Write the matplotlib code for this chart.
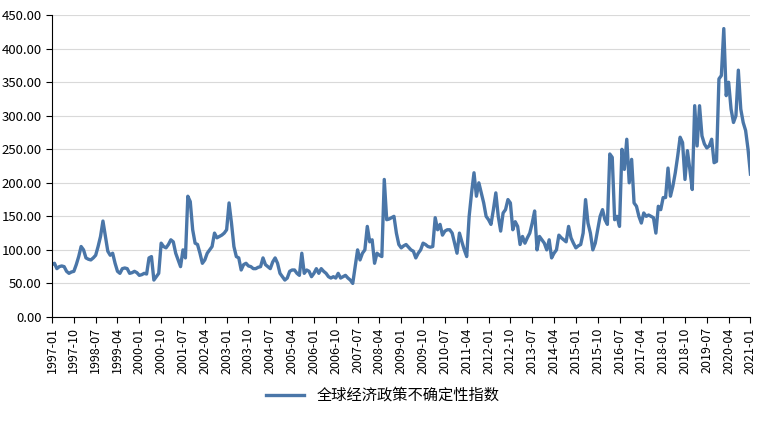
import matplotlib
matplotlib.use("Agg")
import matplotlib.pyplot as plt
import pandas as pd

plt.rcParams['font.family'] = ['Noto Sans CJK SC', 'DejaVu Sans']

values_by_year = {
1997: [78,80,72,75,76,75,68,65,67,68,78,90],
1998: [105,100,88,86,85,88,92,105,120,143,120,98],
1999: [92,95,80,68,65,72,73,72,65,66,68,66],
2000: [62,63,65,64,88,90,55,60,65,110,105,103],
2001: [108,115,112,95,85,75,100,88,180,172,130,110],
2002: [108,95,80,85,95,100,105,125,118,120,122,125],
2003: [130,170,140,105,90,88,70,78,80,76,75,72],
2004: [72,74,75,88,78,75,72,82,88,80,65,60],
2005: [55,58,68,70,70,65,62,95,65,70,68,60],
2006: [65,72,65,72,68,65,60,58,60,58,65,58],
2007: [60,62,58,55,50,75,100,85,95,100,135,112],
2008: [115,80,95,92,90,205,145,146,148,150,125,108],
2009: [103,106,108,104,100,98,88,95,100,110,108,105],
2010: [104,105,148,130,138,122,128,130,130,125,110,95],
2011: [125,112,100,90,150,185,215,180,200,185,170,150],
2012: [145,138,160,185,150,128,155,160,175,170,130,142],
2013: [135,108,120,110,118,125,140,158,100,120,115,110],
2014: [100,115,88,95,100,122,118,115,112,135,118,110],
2015: [103,106,108,125,175,140,125,100,110,130,150,160],
2016: [145,138,243,238,145,150,135,250,220,265,200,235],
2017: [170,165,150,140,155,150,152,150,148,125,165,160],
2018: [178,178,222,180,195,215,240,268,260,205,248,220],
2019: [190,315,255,315,270,258,252,255,265,230,232,355],
2020: [360,430,330,350,310,290,300,368,310,290,278,250],
2021: [213],
}
values = [v for y in sorted(values_by_year) for v in values_by_year[y]]
months = pd.period_range('1997-01', periods=len(values), freq='M')
labels = [str(p) for p in months]
series_name = '全球经济政策不确定性指数'

fig = plt.figure(figsize=(7.65, 4.22), dpi=100)
ax = fig.add_axes([0.068, 0.249, 0.913, 0.715])
x = list(range(len(values)))
ax.plot(x, values, color='#4a76a8', lw=2.4, label=series_name)
ax.set_xlim(0, len(values) - 1)
ax.set_ylim(0, 450)
ax.set_yticks(range(0, 451, 50))
ax.set_yticklabels([f'{v:.2f}' for v in range(0, 451, 50)], fontsize=9.5)
ticks = list(range(0, len(values), 9))
ax.set_xticks(ticks)
ax.set_xticklabels([labels[i] for i in ticks], rotation=90, fontsize=9)
ax.grid(axis='y', color='#d9d9d9', lw=0.8)
ax.set_axisbelow(True)
for s in ['top', 'right']:
    ax.spines[s].set_visible(False)
ax.spines['left'].set_color('#000000')
ax.spines['bottom'].set_color('#000000')
ax.tick_params(axis='y', length=4)
ax.tick_params(axis='x', length=4)
fig.legend(loc='lower center', bbox_to_anchor=(0.5, 0.01), frameon=False, fontsize=11, handlelength=2.5)
fig.savefig('out.png', dpi=100)
